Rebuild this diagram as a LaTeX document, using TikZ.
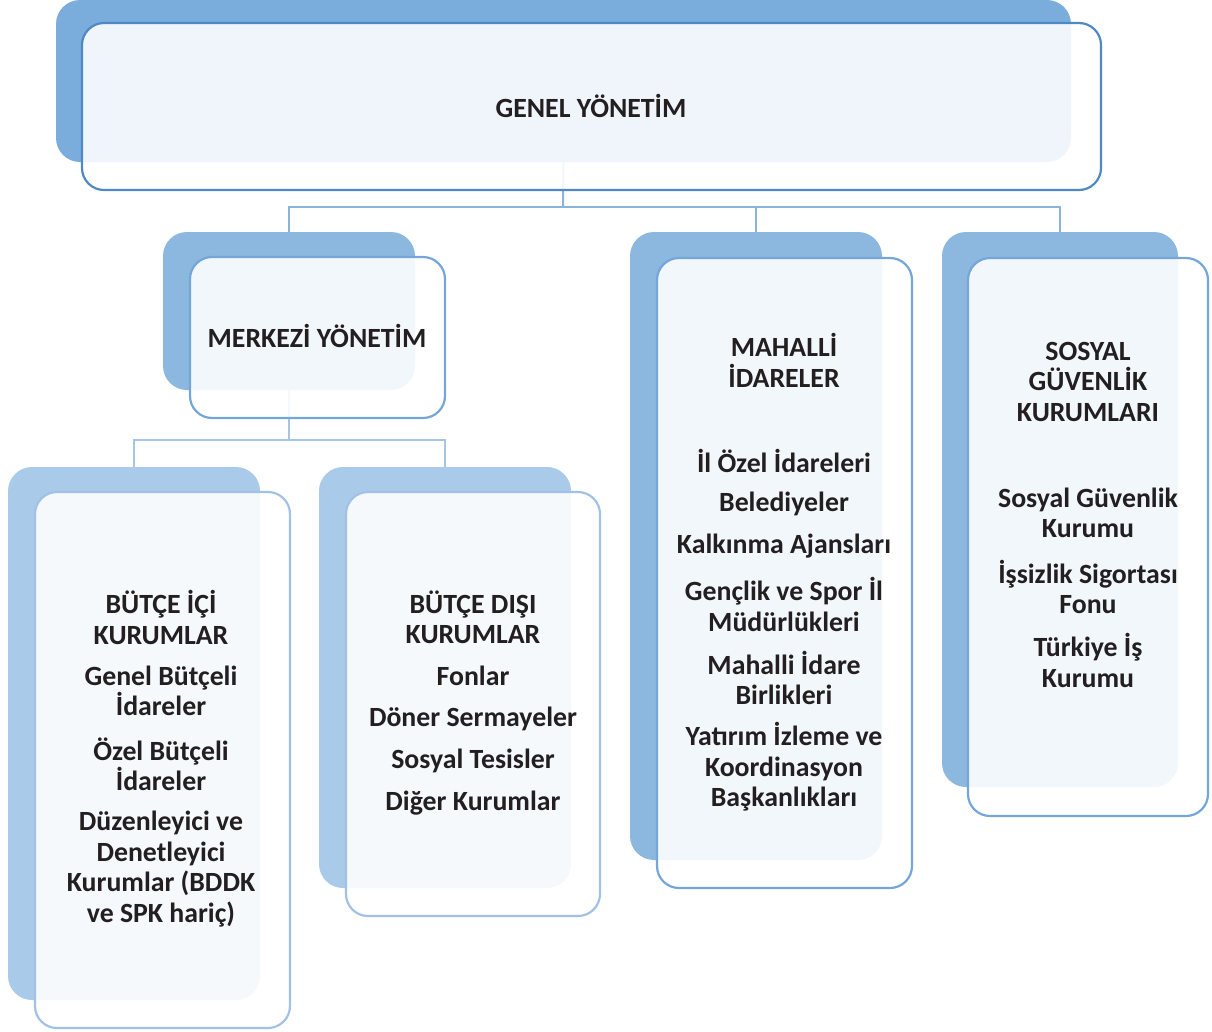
\documentclass[tikz,border=0pt]{standalone}
\usepackage{fontspec}
\setmainfont{Carlito}
\definecolor{backA}{HTML}{7AADDB}
\definecolor{backB}{HTML}{8CB7DF}
\definecolor{backC}{HTML}{AACAE9}
\definecolor{edgeA}{HTML}{4F89C3}
\definecolor{edgeB}{HTML}{74A6D9}
\definecolor{edgeC}{HTML}{A2C1E4}
\definecolor{connA}{HTML}{8AB3DD}
\definecolor{connB}{HTML}{A6C5E6}
\definecolor{inkc}{HTML}{231F20}
\tikzset{
  backbox/.style={rectangle, rounded corners=24pt, inner sep=0pt, outer sep=0pt},
  frontbox/.style={rectangle, rounded corners=22pt, inner sep=0pt, outer sep=0pt, fill=white, fill opacity=0.89, line width=2.2pt},
  conn/.style={line width=2pt},
  txt/.style={align=center, inner sep=0pt, text=inkc, yshift=1.5pt, font=\fontsize{27.8}{30.5}\selectfont\bfseries}
}
\begin{document}
\begin{tikzpicture}[x=1pt,y=-1pt]
\useasboundingbox (0,0) rectangle (1212,1031);
% back boxes
\node[backbox, fill=backA, minimum width=1015pt, minimum height=162pt] (gb) at (563.5,81) {};
\node[backbox, fill=backB, minimum width=252pt, minimum height=158pt] (mb) at (289,311) {};
\node[backbox, fill=backC, minimum width=252pt, minimum height=533pt] (bib) at (134,733.5) {};
\node[backbox, fill=backC, minimum width=252pt, minimum height=421pt] (bdb) at (445,677.5) {};
\node[backbox, fill=backB, minimum width=252pt, minimum height=628pt] (mhb) at (756,546) {};
\node[backbox, fill=backB, minimum width=236pt, minimum height=555pt] (sgb) at (1060,509.5) {};
% connectors
\coordinate (j1) at (563,207);
\coordinate (j2) at (289,440);
\draw[conn, connA] (gb.south) -- (j1);
\draw[conn, connA] (j1) -| (mb.north);
\draw[conn, connA] (j1) -| (mhb.north);
\draw[conn, connA] (j1) -| (sgb.north);
\draw[conn, connB] (mb.south) -- (j2);
\draw[conn, connB] (j2) -| (bib.north);
\draw[conn, connB] (j2) -| (bdb.north);
% front boxes
\node[frontbox, draw=edgeA, minimum width=1019pt, minimum height=167pt] (gf) at (591.5,106.5) {};
\node[frontbox, draw=edgeB, minimum width=255pt, minimum height=161pt] (mf) at (317.5,337.5) {};
\node[frontbox, draw=edgeC, minimum width=255pt, minimum height=536pt] (bif) at (162.5,760) {};
\node[frontbox, draw=edgeC, minimum width=254pt, minimum height=424pt] (bdf) at (473,704) {};
\node[frontbox, draw=edgeB, minimum width=255pt, minimum height=630pt] (mhf) at (784.5,573) {};
\node[frontbox, draw=edgeB, minimum width=240pt, minimum height=558pt] (sgf) at (1088,537) {};
% texts
\node[txt] (t0) at (591,107) {GENEL YÖNETİM};
\node[txt] (t1) at (317,337) {MERKEZİ YÖNETİM};
% Bütçe içi
\node[txt] (bi0) at (161,619) {BÜTÇE İÇİ\\KURUMLAR};
\node[txt] (bi1) at (161,692.5) {Genel Bütçeli\\İdareler};
\node[txt] (bi2) at (161,766) {Özel Bütçeli\\İdareler};
\node[txt] (bi3) at (161,870.5) {Düzenleyici ve\\Denetleyici\\Kurumlar (BDDK\\ve SPK hariç)};
% Bütçe dışı
\node[txt] (bd0) at (473,619) {BÜTÇE DIŞI\\KURUMLAR};
\node[txt] (bd1) at (473,677) {Fonlar};
\node[txt] (bd2) at (473,720) {Döner Sermayeler};
\node[txt] (bd3) at (473,762) {Sosyal Tesisler};
\node[txt] (bd4) at (473,805) {Diğer Kurumlar};
% Mahalli
\node[txt] (mh0) at (784,362) {MAHALLİ\\İDARELER};
\node[txt] (mh1) at (784,462) {İl Özel İdareleri};
\node[txt] (mh2) at (784,505) {Belediyeler};
\node[txt] (mh3) at (784,548) {Kalkınma Ajansları};
\node[txt] (mh4) at (784,606) {Gençlik ve Spor İl\\Müdürlükleri};
\node[txt] (mh5) at (784,679.5) {Mahalli İdare\\Birlikleri};
\node[txt] (mh6) at (784,768.5) {Yatırım İzleme ve\\Koordinasyon\\Başkanlıkları};
% Sosyal
\node[txt] (sg0) at (1088,383) {SOSYAL\\GÜVENLİK\\KURUMLARI};
\node[txt] (sg1) at (1088,514.5) {Sosyal Güvenlik\\Kurumu};
\node[txt] (sg2) at (1088,588.5) {İşsizlik Sigortası\\Fonu};
\node[txt] (sg3) at (1088,662) {Türkiye İş\\Kurumu};
\end{tikzpicture}
\end{document}
